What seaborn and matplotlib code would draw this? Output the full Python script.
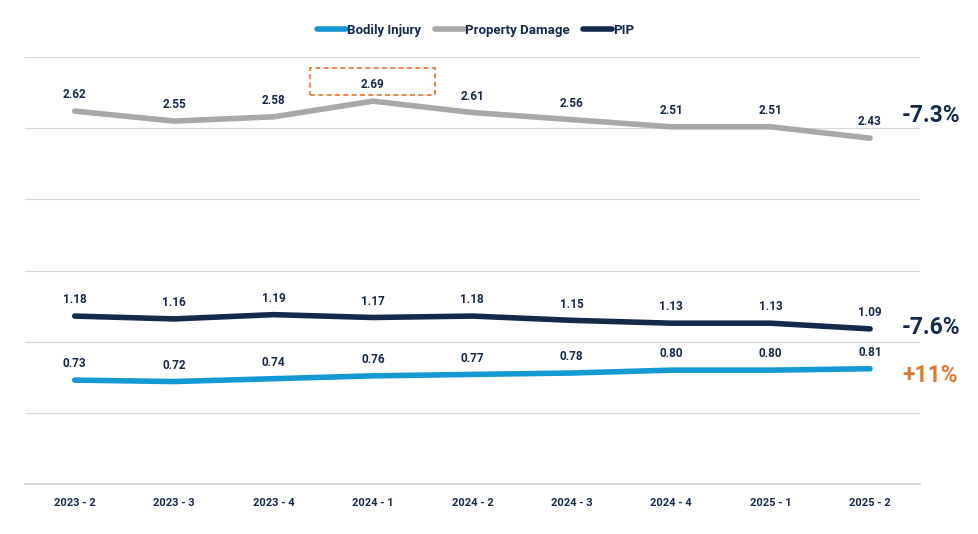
import pandas as pd
import seaborn as sns
import matplotlib.pyplot as plt
from matplotlib.patches import Rectangle

# data
quarters = ['2023 - 2', '2023 - 3', '2023 - 4', '2024 - 1', '2024 - 2',
            '2024 - 3', '2024 - 4', '2025 - 1', '2025 - 2']
bodily_injury = [0.73, 0.72, 0.74, 0.76, 0.77, 0.78, 0.80, 0.80, 0.81]
property_damage = [2.62, 2.55, 2.58, 2.69, 2.61, 2.56, 2.51, 2.51, 2.43]
pip = [1.18, 1.16, 1.19, 1.17, 1.18, 1.15, 1.13, 1.13, 1.09]
series_names = ['Bodily Injury', 'Property Damage', 'PIP']
changes = ['+11%', '-7.3%', '-7.6%']

navy = '#15294b'
colors = {'Bodily Injury': '#1499d3', 'Property Damage': '#a8a8a8', 'PIP': navy}
change_colors = {'Bodily Injury': '#e2762f', 'Property Damage': navy, 'PIP': navy}
change_dy = {'Bodily Injury': -5, 'Property Damage': 16, 'PIP': 1}

sns.set_theme(style='white')
plt.rcParams['font.family'] = ['Roboto', 'DejaVu Sans']

df = pd.concat([
    pd.DataFrame({'quarter': quarters, 'value': vals, 'series': name, 'x': range(len(quarters))})
    for name, vals in zip(series_names, [bodily_injury, property_damage, pip])
])

fig = plt.figure(figsize=(9.79, 5.34), dpi=100)
ax = fig.add_axes([0.0255, 0.0936, 0.914, 0.7996])

sns.lineplot(data=df, x='x', y='value', hue='series', palette=colors,
             linewidth=4, ax=ax, legend=False, solid_capstyle='round')

ax.set_xlim(-0.5, len(quarters) - 0.5)
ax.set_ylim(0, 3.0)
ax.set_yticks([0, 0.5, 1.0, 1.5, 2.0, 2.5, 3.0])
ax.yaxis.grid(True, color='#d9d9d9', linewidth=0.9)
ax.set_yticklabels([])
ax.tick_params(axis='y', length=0)
ax.set_xticks(range(len(quarters)))
ax.set_xticklabels(quarters, fontsize=8, fontweight='bold', color=navy)
ax.set_xticks([i + 0.5 for i in range(-1, len(quarters))], minor=True)
ax.tick_params(axis='x', which='major', length=0, pad=10)
ax.tick_params(axis='x', which='minor', length=4, color='#d0d0d0', direction='in')
for s in ['top', 'right', 'left']:
    ax.spines[s].set_visible(False)
ax.spines['bottom'].set_color('#d0d0d0')
ax.set_xlabel('')
ax.set_ylabel('')

# value labels
for name, vals in zip(series_names, [bodily_injury, property_damage, pip]):
    for i, v in enumerate(vals):
        ax.annotate(f'{v:.2f}', (i, v), xytext=(0, 7), textcoords='offset points',
                    ha='center', va='bottom', fontsize=8.5, fontweight='bold', color=navy)
    ax.annotate(changes[series_names.index(name)], (len(quarters) - 1, vals[-1]),
                xytext=(23, change_dy[name]), textcoords='offset points', ha='left', va='center',
                fontsize=16.5, fontweight='bold', color=change_colors[name],
                annotation_clip=False)

# highlight box around the peak
ax.add_patch(Rectangle((2.37, 2.73), 1.25, 0.19, fill=False, edgecolor='#e2762f',
                       linestyle=(0, (3, 2)), linewidth=1.2))

# legend
handles = [plt.Line2D([], [], color=colors[n], linewidth=4, solid_capstyle='round')
           for n in series_names]
fig.legend(handles, series_names, loc='center', bbox_to_anchor=(0.486, 0.943), ncol=3,
           frameon=False, handlelength=2.2, handletextpad=0.1, columnspacing=1.0,
           prop={'size': 9.5, 'weight': 'bold'}, labelcolor=navy)

plt.savefig('out.png', dpi=100)
